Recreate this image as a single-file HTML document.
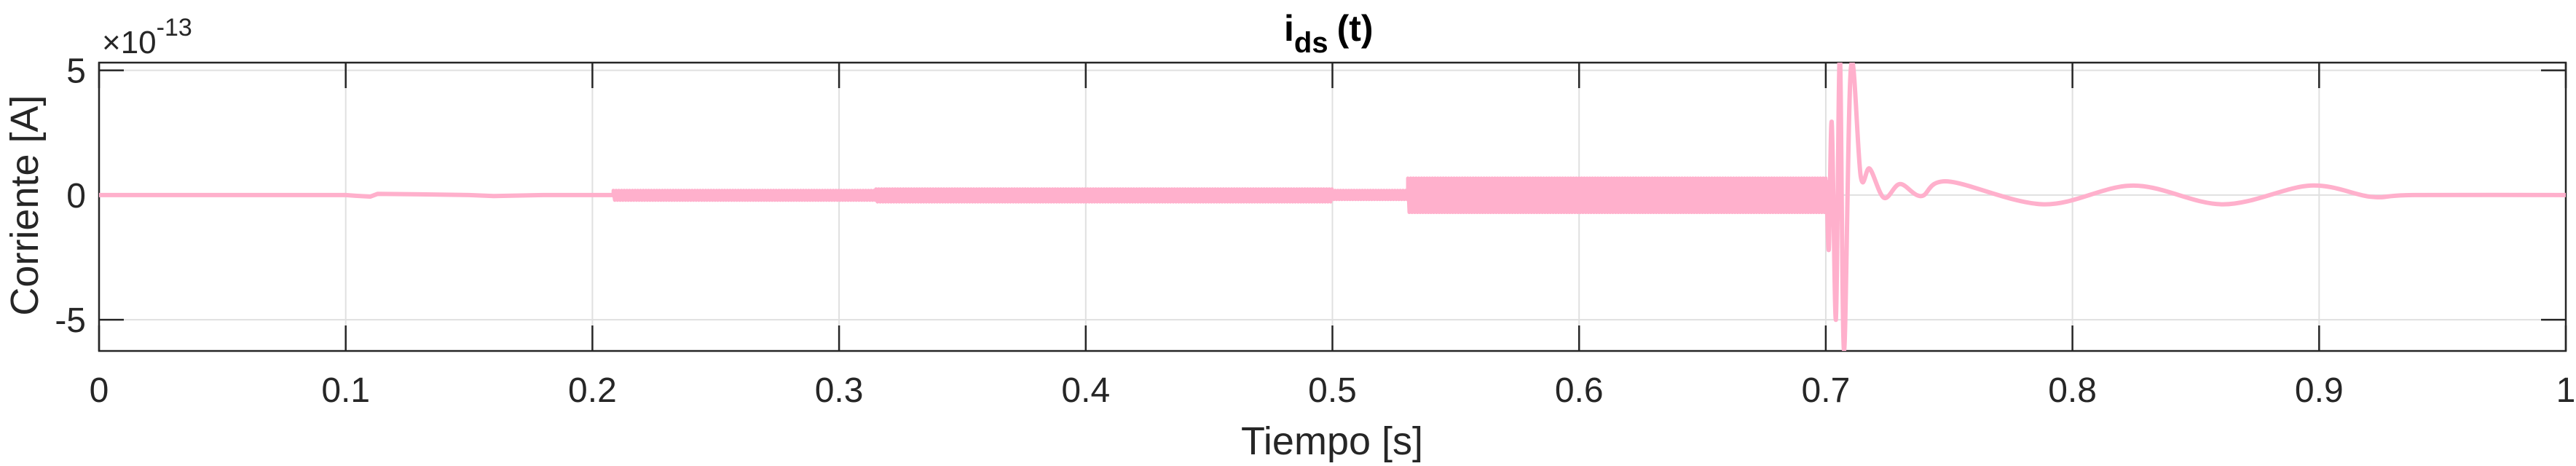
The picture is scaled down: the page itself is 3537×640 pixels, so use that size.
<!DOCTYPE html>
<html><head><meta charset="utf-8">
<style>
html,body{margin:0;padding:0;background:#fff;}
svg{display:block;font-family:"Liberation Sans",Arial,sans-serif;}
</style></head>
<body>
<svg id="chart" width="3537" height="640" viewBox="0 0 3537 640" xmlns="http://www.w3.org/2000/svg">
<defs><clipPath id="pc"><rect x="136" y="86" width="3387" height="396"/></clipPath></defs>
<rect x="0" y="0" width="3537" height="640" fill="#fff"/>
<g id="grid"></g>
<rect x="136" y="86" width="3387" height="396" fill="none" stroke="#262626" stroke-width="2.5"/>
<g id="ticks"></g>
<g id="series" clip-path="url(#pc)"></g>
<text x="1763" y="56" font-size="50" font-weight="bold" fill="#000">i<tspan font-size="40" dy="16">ds</tspan><tspan dy="-16" dx="12">(t)</tspan></text>
<text x="140" y="73" font-size="44" fill="#262626">×10<tspan font-size="34" dy="-24">-13</tspan></text>
<text x="1829" y="624" font-size="54" text-anchor="middle" fill="#262626">Tiempo [s]</text>
<text x="0" y="0" font-size="54" text-anchor="middle" fill="#262626" transform="translate(52,282) rotate(-90)">Corriente [A]</text>
</svg>
<script>
const xTicks=[0,0.1,0.2,0.3,0.4,0.5,0.6,0.7,0.8,0.9,1];
const xTickLabels=["0","0.1","0.2","0.3","0.4","0.5","0.6","0.7","0.8","0.9","1"];
const yTicks=[-5,0,5];
const yTickLabels=["-5","0","5"];
// quiet segment (time, value x1e-13)
const quietT=[0,0.1,0.104,0.11,0.113,0.13,0.15,0.16,0.18,0.2,0.2085];
const quietV=[0,0,-0.03,-0.06,0.05,0.03,0.0,-0.04,0.0,0.0,0.0];
// switching ripple bands
const bandStart=[0.2085,0.315,0.5,0.5306];
const bandEnd=[0.315,0.5,0.5306,0.7003];
const bandHi=[0.18,0.24,0.18,0.67];
const bandLo=[-0.2,-0.27,-0.17,-0.69];
// transient after 0.7 s
const transT=[0.7003,0.7012,0.7024,0.7041,0.7057,0.7074,0.7103,0.7142,0.7178,0.7236,0.7301,0.7387,0.7494,0.7883,0.8247,0.8611,0.8964,0.9211,0.9382,1.0];
const transV=[0.6,-2.2,2.94,-5.0,5.6,-6.22,5.18,0.73,1.06,-0.11,0.44,-0.04,0.55,-0.37,0.38,-0.37,0.38,-0.07,0,0];

const X0=136,X1=3523,Y0=482,Y1=86,YMIN=-6.25,YMAX=5.31;
const sx=t=>X0+(t-0)/(1-0)*(X1-X0);
const sy=v=>Y0-(v-YMIN)/(YMAX-YMIN)*(Y0-Y1);
const NS="http://www.w3.org/2000/svg";
const grid=document.getElementById('grid'),ticks=document.getElementById('ticks'),series=document.getElementById('series');
function mk(tag,attrs,parent){const e=document.createElementNS(NS,tag);for(const k in attrs)e.setAttribute(k,attrs[k]);parent.appendChild(e);return e;}
xTicks.forEach((t,i)=>{
  const x=sx(t);
  const g=mk('line',{x1:x,x2:x,y1:Y1,y2:Y0,stroke:'#e0e0e0','stroke-width':2},grid);
  
  
  const a=mk('line',{x1:x,x2:x,y1:Y0,y2:Y0-35,stroke:'#262626','stroke-width':2.5},ticks);
  
  
  const b=mk('line',{x1:x,x2:x,y1:Y1,y2:Y1+35,stroke:'#262626','stroke-width':2.5},ticks);
  
  
  const l=mk('text',{x:x,y:552,'font-size':48,'text-anchor':'middle',fill:'#262626'},ticks);
  l.textContent=xTickLabels[i];
  
  
});
yTicks.forEach((v,i)=>{
  const y=sy(v);
  const g=mk('line',{x1:X0,x2:X1,y1:y,y2:y,stroke:'#e0e0e0','stroke-width':2},grid);
  
  
  const a=mk('line',{x1:X0,x2:X0+34,y1:y,y2:y,stroke:'#262626','stroke-width':2.5},ticks);
  
  
  const b=mk('line',{x1:X1,x2:X1-34,y1:y,y2:y,stroke:'#262626','stroke-width':2.5},ticks);
  
  
  const l=mk('text',{x:118,y:y+17,'font-size':48,'text-anchor':'end',fill:'#262626'},ticks);
  l.textContent=yTickLabels[i];
  
  
});
const COL='#ffb0cc';
let d='';quietT.forEach((t,i)=>{d+=(i?'L':'M')+sx(t).toFixed(1)+','+sy(quietV[i]).toFixed(1);});
const q=mk('path',{d:d,fill:'none',stroke:COL,'stroke-width':6,'stroke-linejoin':'round'},series);


bandStart.forEach((s,i)=>{
  const e=bandEnd[i],step=0.0011;let p='M'+sx(s).toFixed(1)+','+sy(0).toFixed(1);let k=0;
  for(let t=s;t<=e;t+=step/2){p+='L'+sx(t).toFixed(1)+','+sy(k%2?bandLo[i]:bandHi[i]).toFixed(1);k++;}
  p+='L'+sx(e).toFixed(1)+','+sy(0).toFixed(1);
  const b=mk('path',{d:p,fill:'none',stroke:COL,'stroke-width':5,'stroke-linejoin':'round'},series);
  
  
});
const pts=transT.map((t,i)=>[sx(t),sy(transV[i])]);
let tp='M'+pts[0][0].toFixed(1)+','+pts[0][1].toFixed(1);
for(let i=0;i<pts.length-1;i++){
  const p0=pts[i-1]||pts[i],p1=pts[i],p2=pts[i+1],p3=pts[i+2]||p2;
  const c1=[p1[0]+(p2[0]-p0[0])/6,p1[1]+(p2[1]-p0[1])/6*(i<6?0.3:1)];
  const c2=[p2[0]-(p3[0]-p1[0])/6,p2[1]-(p3[1]-p1[1])/6*(i<6?0.3:1)];
  tp+='C'+c1[0].toFixed(1)+','+c1[1].toFixed(1)+' '+c2[0].toFixed(1)+','+c2[1].toFixed(1)+' '+p2[0].toFixed(1)+','+p2[1].toFixed(1);
}
const tr=mk('path',{d:tp,fill:'none',stroke:COL,'stroke-width':6,'stroke-linejoin':'round'},series);


</script>
</body></html>
